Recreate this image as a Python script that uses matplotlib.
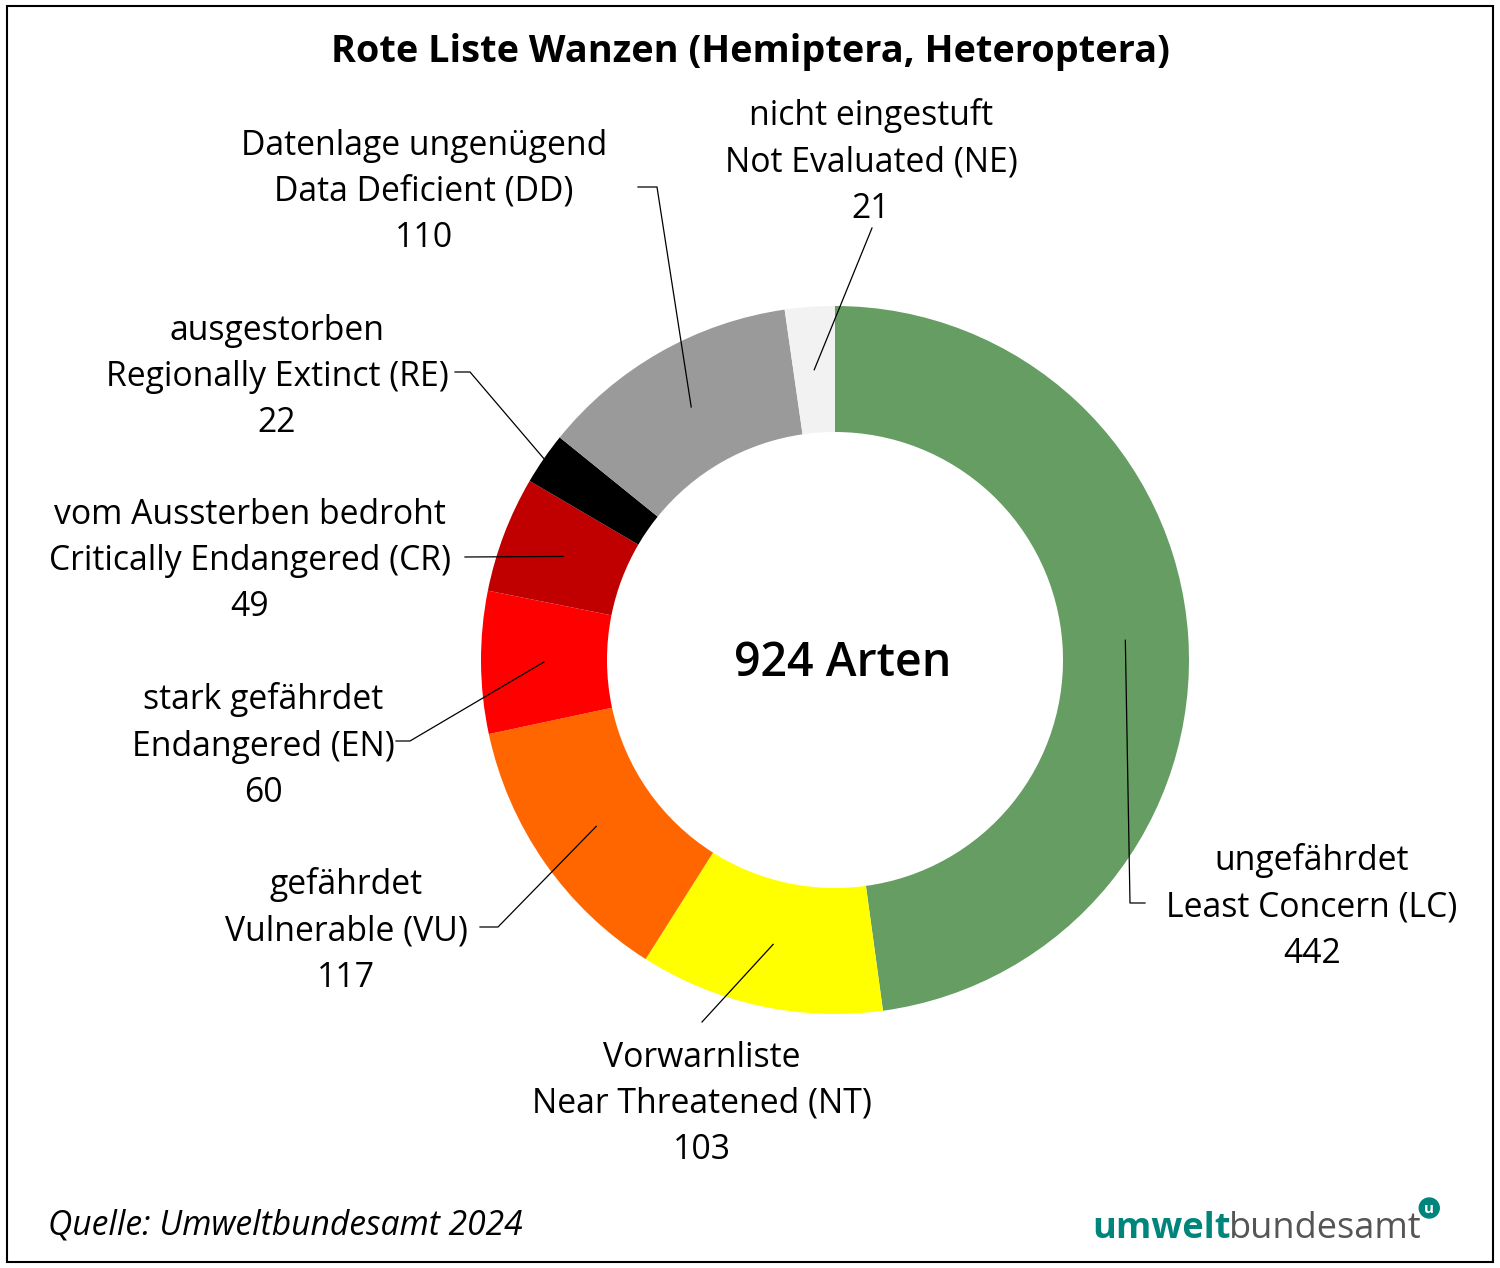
import numpy as np
import matplotlib
matplotlib.use('agg')
import matplotlib.pyplot as plt
from matplotlib.patches import Rectangle, Circle

plt.rcParams['font.family'] = ['Open Sans', 'DejaVu Sans']

# data, clockwise from 12 o'clock
de_names = ['ungefährdet', 'Vorwarnliste', 'gefährdet', 'stark gefährdet',
            'vom Aussterben bedroht', 'ausgestorben', 'Datenlage ungenügend',
            'nicht eingestuft']
en_names = ['Least Concern (LC)', 'Near Threatened (NT)', 'Vulnerable (VU)',
            'Endangered (EN)', 'Critically Endangered (CR)',
            'Regionally Extinct (RE)', 'Data Deficient (DD)',
            'Not Evaluated (NE)']
counts = [442, 103, 117, 60, 49, 22, 110, 21]
colors = ['#669d62', '#ffff00', '#ff6600', '#ff0000', '#c00000', '#000000',
          '#9a9a9a', '#f2f2f2']

W, H = 1500, 1268
fig = plt.figure(figsize=(W / 100, H / 100), dpi=100)
ax = fig.add_axes([0, 0, 1, 1])


def py(y):
    # pixel row (from top) -> data y
    return H - y


cx, cy = 835, py(660)
r_out, width = 354, 126
wedges, _ = ax.pie(counts, colors=colors, startangle=90, counterclock=False,
                   radius=r_out, center=(cx, cy),
                   wedgeprops=dict(width=width, linewidth=0))
ax.set_xlim(0, W)
ax.set_ylim(0, H)
ax.set_aspect('equal')
ax.axis('off')

# label layout (pixel coords): text centre, leader path after anchor, anchor radius
label_xy = [(1312, 907), (702, 1104), (346, 931), (263, 746),
            (250, 561), (277, 377), (424, 192), (871, 162)]
leader_pts = [[(1130, 903), (1145, 903)], [(702, 1022)],
              [(498, 927), (480, 927)], [(410, 741), (396, 741)],
              [(465, 557)], [(470, 372), (455, 372)],
              [(657, 187), (638, 187)], [(872, 228)]]
anchor_r = [291, 291, 291, 291, 291, 354, 291, 291]

for w, de, en, n, (lx, ly), pts, ar in zip(wedges, de_names, en_names, counts,
                                            label_xy, leader_pts, anchor_r):
    mid = np.deg2rad((w.theta1 + w.theta2) / 2)
    ax0 = cx + ar * np.cos(mid)
    ay0 = cy + ar * np.sin(mid)
    xs = [ax0] + [p[0] for p in pts]
    ys = [ay0] + [py(p[1]) for p in pts]
    ax.plot(xs, ys, color='black', lw=0.9)
    ax.text(lx, py(ly), f'{de}\n{en}\n{n}', ha='center', va='center',
            fontsize=24.3, linespacing=1.48, color='black')

ax.text(843, py(664), f'{sum(counts)} Arten', ha='center', va='center',
        fontsize=33.5, fontweight='semibold', color='black')

ax.text(750, py(52), 'Rote Liste Wanzen (Hemiptera, Heteroptera)',
        ha='center', va='center', fontsize=27.3, fontweight='bold', color='black')

ax.text(48, py(1226), 'Quelle: Umweltbundesamt 2024', ha='left', va='center',
        fontsize=24.2, style='italic', color='black')

# logo
t1 = ax.text(1092, py(1238), 'umwelt', ha='left', va='baseline', fontsize=26,
             fontweight='bold', color='#00857c')
fig.canvas.draw()
bb = t1.get_window_extent()
t2 = ax.text(bb.x1 - 2, py(1238), 'bundesamt', ha='left', va='baseline',
             fontsize=26, color='#555555')
fig.canvas.draw()
bb2 = t2.get_window_extent()
ax.add_patch(Circle((bb2.x1 + 8, py(1208)), 10, color='#00857c'))
ax.text(bb2.x1 + 8, py(1209), 'u', ha='center', va='center', fontsize=11,
        fontweight='bold', color='white')

ax.add_patch(Rectangle((7, py(1262)), 1486, 1256, fill=False, edgecolor='black',
                       lw=1.5))

fig.savefig('out.png', dpi=100)
